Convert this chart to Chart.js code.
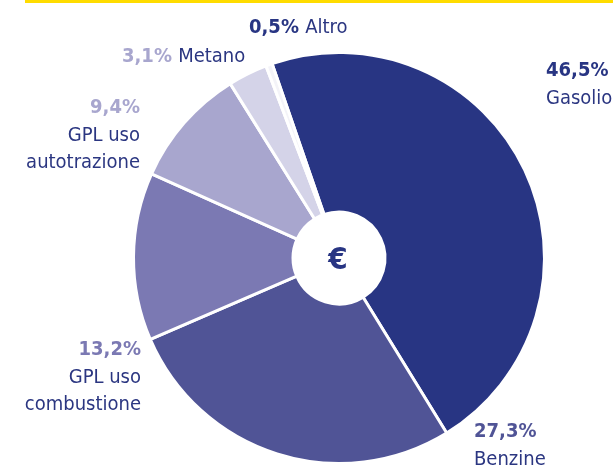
<!DOCTYPE html>
<html>
<head>
<meta charset="utf-8">
<script src="https://cdn.jsdelivr.net/npm/chart.js@4"></script>
<style>
  html, body { margin: 0; padding: 0; background: #ffffff; }
  #wrap { position: relative; width: 613px; height: 465px; }
  #topline { position: absolute; left: 25px; top: 0; width: 588px; height: 3px; background: #ffdc00; }
  canvas { position: absolute; left: 0; top: 0; }
</style>
</head>
<body>
<div id="wrap">
  <canvas id="c" width="613" height="465"></canvas>
  <div id="topline"></div>
</div>
<script>
// ---- data ----
const categories = ["Gasolio", "Benzine", "GPL uso combustione", "GPL uso autotrazione", "Metano", "Altro"];
const shares = [46.5, 27.3, 13.2, 9.4, 3.1, 0.5];
const percentLabels = ["46,5%", "27,3%", "13,2%", "9,4%", "3,1%", "0,5%"];
const nameLines = [["Gasolio"], ["Benzine"], ["GPL uso", "combustione"], ["GPL uso", "autotrazione"], ["Metano"], ["Altro"]];

// ---- styles ----
const sliceColors = ["#283583", "#505496", "#7b79b3", "#a8a6ce", "#d4d3e8", "#f3f3f8"];
const pctColors = ["#283583", "#505496", "#7b79b3", "#a8a6ce", "#a8a6ce", "#283583"];
const nameColor = "#2b3681";
const BOLD = "bold 20px 'DejaVu Sans Condensed', 'DejaVu Sans', sans-serif";
const REG = "20px 'DejaVu Sans Condensed', 'DejaVu Sans', sans-serif";

// label layout: [x, align, firstLineCenterY, inline]
const labelLayout = [
  [546, "left", 69, false],
  [474, "left", 430, false],
  [141, "right", 348, false],
  [140, "right", 106, false],
  [122, "left", 55, true],
  [249, "left", 26, true]
];
const lineGap = 27.5;

const labelPlugin = {
  id: "labels",
  afterDraw(chart) {
    const ctx = chart.ctx;
    const meta = chart.getDatasetMeta(0);
    const arc0 = meta.data[0];
    // center euro sign
    ctx.save();
    ctx.fillStyle = "#283583";
    ctx.font = "bold 31px 'DejaVu Sans Condensed', 'DejaVu Sans', sans-serif";
    ctx.textAlign = "center";
    ctx.textBaseline = "alphabetic";
    ctx.fillText("€", arc0.x - 1, arc0.y + 11);
    ctx.textBaseline = "alphabetic";
    categories.forEach((cat, i) => {
      const [x, align, cy, inline] = labelLayout[i];
      const capHalf = 7.3;
      if (inline) {
        ctx.textAlign = "left";
        ctx.font = BOLD;
        ctx.fillStyle = pctColors[i];
        ctx.fillText(percentLabels[i], x, cy + capHalf);
        const w = ctx.measureText(percentLabels[i] + " ").width;
        ctx.font = REG;
        ctx.fillStyle = nameColor;
        ctx.fillText(nameLines[i][0], x + w, cy + capHalf);
      } else {
        ctx.textAlign = align;
        ctx.font = BOLD;
        ctx.fillStyle = pctColors[i];
        ctx.fillText(percentLabels[i], x, cy + capHalf);
        ctx.font = REG;
        ctx.fillStyle = nameColor;
        nameLines[i].forEach((ln, k) => {
          ctx.fillText(ln, x, cy + capHalf + lineGap * (k + 1));
        });
      }
    });
    ctx.restore();
  }
};

new Chart(document.getElementById("c"), {
  type: "doughnut",
  data: {
    labels: categories,
    datasets: [{
      data: shares,
      backgroundColor: sliceColors,
      borderColor: "#ffffff",
      borderWidth: 3,
      hoverOffset: 0
    }]
  },
  options: {
    responsive: false,
    animation: false,
    cutout: 46,
    rotation: -19,
    layout: { padding: { top: 51, bottom: 0, left: 131, right: 66 } },
    plugins: {
      legend: { display: false },
      tooltip: { enabled: false }
    }
  },
  plugins: [labelPlugin]
});
</script>
</body>
</html>
